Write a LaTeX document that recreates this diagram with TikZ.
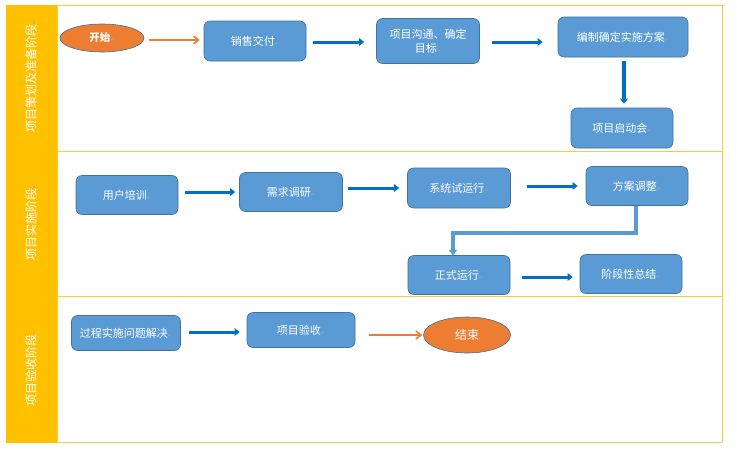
\documentclass[tikz,border=0pt]{standalone}
\usepackage{fontspec}
\setmainfont{Noto Sans CJK SC}
\newfontfamily\dejavu{DejaVu Sans}
\usetikzlibrary{shapes.geometric,arrows.meta,calc}
\definecolor{boxfill}{HTML}{5B9BD5}
\definecolor{boxline}{HTML}{41719C}
\definecolor{arrblue}{HTML}{0070C0}
\definecolor{orangefill}{HTML}{ED7D31}
\definecolor{orangeline}{HTML}{AE5A21}
\definecolor{band}{HTML}{FFC000}
\definecolor{laneline}{HTML}{FFC93C}
\newcommand\rmark{{\dejavu\fontsize{5}{5}\selectfont\textcolor{gray!70}{↵}}}
\begin{document}
\begin{tikzpicture}[x=1pt,y=-1pt,
  stepbox/.style={draw=boxline,fill=boxfill,rounded corners=6pt,text=white,
    font=\fontsize{11}{14}\selectfont,minimum width=102pt,minimum height=40pt,
    inner sep=1pt,line width=0.6pt,align=center},
  termnode/.style={ellipse,draw=boxline,fill=orangefill,text=white,inner sep=0pt,line width=0.6pt},
  barrow/.style={draw=arrblue,line width=3pt,-{Triangle[length=5pt,width=7.5pt]}},
  oarrow/.style={draw=orangefill,line width=2.2pt,-{Straight Barb[length=5pt,width=8pt,line width=1.6pt]}},
  lanelabel/.style={rotate=90,text=white,font=\fontsize{12}{14}\selectfont},
  lane/.style={draw=laneline,line width=0.9pt}
]
\useasboundingbox (0,0) rectangle (737,453);
\fill[white] (0,0) rectangle (737,453);
% lanes
\fill[band] (6,5) rectangle (57,443);
\draw[lane] (57,5) -- (725,5);
\draw[lane] (722,5) -- (722,442);
\draw[lane] (57,151) -- (722,151);
\draw[lane] (57,296) -- (722,296);
\draw[lane] (57,442) -- (722,442);
\draw[lane] (57,5) -- (57,443);
\node[lanelabel] (l1) at (31,76) {项目策划及准备阶段\rmark};
\node[lanelabel] (l2) at (31,222) {项目实施阶段\rmark};
\node[lanelabel] (l3) at (31,368) {项目验收阶段\rmark};
% lane 1
\node[termnode,minimum width=84pt,minimum height=28pt,font=\bfseries\fontsize{10.5}{13}\selectfont] (start) at (102,38) {开始\rmark};
\node[stepbox] (xs) at (255,41) {销售交付\rmark};
\node[stepbox,minimum height=45pt,minimum width=103pt] (gt) at (428,41) {项目沟通、确定\\目标\rmark};
\node[stepbox,minimum width=130pt] (bz) at (623,37) {编制确定实施方案\rmark};
\node[stepbox] (qd) at (622,128) {项目启动会\rmark};
% lane 2
\node[stepbox,minimum height=39pt] (px) at (127,195) {用户培训\rmark};
\node[stepbox,minimum height=39pt,minimum width=103pt] (xq) at (291,192) {需求调研\rmark};
\node[stepbox,minimum width=103pt] (xt) at (459,188) {系统试运行\rmark};
\node[stepbox,minimum height=39pt] (fa) at (637,186) {方案调整\rmark};
\node[stepbox,minimum height=39pt] (zs) at (459,275) {正式运行\rmark};
\node[stepbox,minimum height=39pt] (jd) at (631,274) {阶段性总结\rmark};
% lane 3
\node[stepbox,minimum width=109pt,minimum height=35pt] (gc) at (126,333) {过程实施问题解决\rmark};
\node[stepbox,minimum width=108pt,minimum height=35pt] (ys) at (301,330) {项目验收\rmark};
\node[termnode,minimum width=87pt,minimum height=36pt,font=\fontsize{12}{14}\selectfont] (end) at (467,335) {结束};
% connectors
\draw[oarrow,shorten <=5pt,shorten >=4pt] (start.east |- 0,40) -- (xs.west |- 0,40);
\draw[barrow,shorten <=7pt,shorten >=12pt] (xs.east |- 0,42) -- (gt.west |- 0,42);
\draw[barrow,shorten <=12pt,shorten >=15pt] (gt.east |- 0,42) -- (bz.west |- 0,42);
\draw[barrow,line width=4pt,shorten <=4pt,shorten >=4pt] ([xshift=1pt]bz.south) -- ([xshift=2pt]qd.north);
\draw[barrow,shorten <=7pt,shorten >=4pt] (px.east |- 0,192) -- (xq.west |- 0,192);
\draw[barrow,shorten <=5pt,shorten >=8pt] (xq.east |- 0,188) -- (xt.west |- 0,188);
\draw[barrow,shorten <=16pt,shorten >=8pt] (xt.east |- 0,186) -- (fa.west |- 0,186);
\draw[draw=boxfill,line width=3.6pt,-{Triangle[length=5pt,width=8pt]}] ([xshift=-1pt]fa.south) -- ([xshift=-1pt]fa.south |- 0,233) -| ([xshift=-6pt]zs.north);
\draw[barrow,shorten <=12pt,shorten >=7pt] (zs.east |- 0,277) -- (jd.west |- 0,277);
\draw[barrow,shorten <=8pt,shorten >=7pt] (gc.east |- 0,332) -- (ys.west |- 0,332);
\draw[oarrow,shorten <=14pt,shorten >=1pt] (ys.east |- 0,335) -- (end.west |- 0,335);
\end{tikzpicture}
\end{document}
